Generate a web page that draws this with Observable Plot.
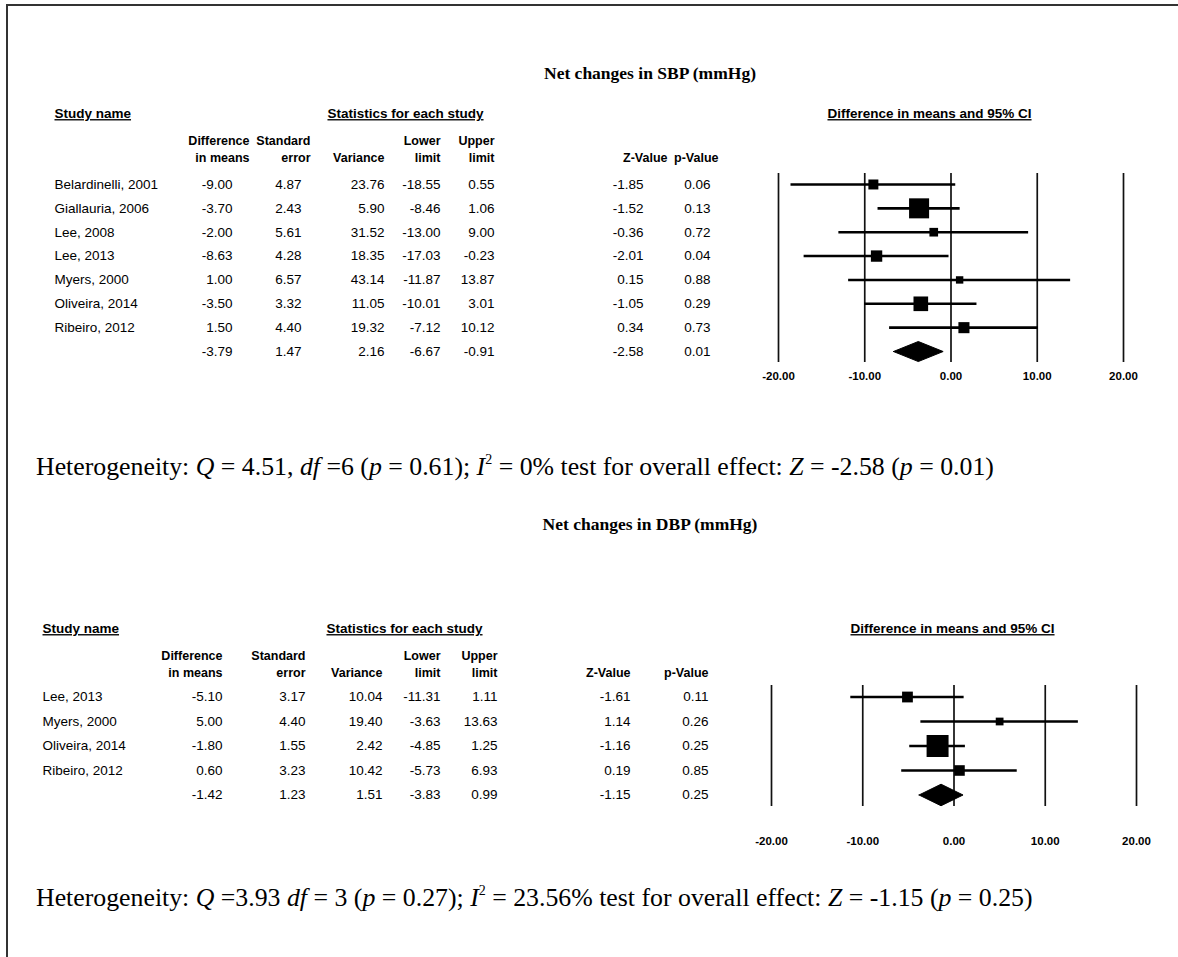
<!DOCTYPE html>
<html><head><meta charset="utf-8">
<script src="https://cdn.jsdelivr.net/npm/d3@7"></script>
<script src="https://cdn.jsdelivr.net/npm/@observablehq/plot@0.6"></script>
<style>
body{margin:0;background:#fff;}
#page{position:relative;width:1178px;height:957px;overflow:hidden;background:#fff;font-family:"Liberation Sans",Arial,sans-serif;}
.frameTop{position:absolute;left:6px;top:4px;right:0;height:0;border-top:2px solid #333;}
.frameLeft{position:absolute;left:6px;top:4px;bottom:0;width:0;border-left:2px solid #333;}
.title{position:absolute;left:0;width:1300px;text-align:center;font-family:"Liberation Serif","Times New Roman",serif;font-weight:bold;font-size:17.5px;line-height:1;}
.het{position:absolute;left:36px;font-family:"Liberation Serif","Times New Roman",serif;font-size:25.8px;white-space:nowrap;line-height:1;}
.het sup{font-size:14px;vertical-align:11px;line-height:0;}
.plot{position:absolute;left:0;}
.plot svg{overflow:visible;}
</style></head><body>
<div id="page">
  <div class="frameTop"></div><div class="frameLeft"></div>
  <div class="title" style="top:65px">Net changes in SBP (mmHg)</div>
  <div id="p1" class="plot" style="top:90px"></div>
  <div class="het" style="top:454px">Heterogeneity: <i>Q</i> = 4.51, <i>df</i> =6 (<i>p</i> = 0.61); <i>I</i><sup>2</sup> = 0% test for overall effect: <i>Z</i> = -2.58 (<i>p</i> = 0.01)</div>
  <div class="title" style="top:516px">Net changes in DBP (mmHg)</div>
  <div id="p2" class="plot" style="top:605px"></div>
  <div class="het" style="top:885px">Heterogeneity: <i>Q</i> =3.93 <i>df</i> = 3 (<i>p</i> = 0.27); <i>I</i><sup>2</sup> = 23.56% test for overall effect: <i>Z</i> = -1.15 (<i>p</i> = 0.25)</div>
</div>
<script>
// ---------- data ----------
const ticks = [-20, -10, 0, 10, 20];
const headerLine1 = ["Difference", "Standard", "", "Lower", "Upper", "", ""];
const headerLine2 = ["in means", "error", "Variance", "limit", "limit", "Z-Value", "p-Value"];

// SBP
const sbpStudies = ["Belardinelli, 2001", "Giallauria, 2006", "Lee, 2008", "Lee, 2013", "Myers, 2000", "Oliveira, 2014", "Ribeiro, 2012"];
const sbpDiff  = [-9.00, -3.70, -2.00, -8.63, 1.00, -3.50, 1.50];
const sbpSE    = [4.87, 2.43, 5.61, 4.28, 6.57, 3.32, 4.40];
const sbpVar   = [23.76, 5.90, 31.52, 18.35, 43.14, 11.05, 19.32];
const sbpLower = [-18.55, -8.46, -13.00, -17.03, -11.87, -10.01, -7.12];
const sbpUpper = [0.55, 1.06, 9.00, -0.23, 13.87, 3.01, 10.12];
const sbpZ     = [-1.85, -1.52, -0.36, -2.01, 0.15, -1.05, 0.34];
const sbpP     = [0.06, 0.13, 0.72, 0.04, 0.88, 0.29, 0.73];
const sbpOverall = [-3.79, 1.47, 2.16, -6.67, -0.91, -2.58, 0.01];

// DBP
const dbpStudies = ["Lee, 2013", "Myers, 2000", "Oliveira, 2014", "Ribeiro, 2012"];
const dbpDiff  = [-5.10, 5.00, -1.80, 0.60];
const dbpSE    = [3.17, 4.40, 1.55, 3.23];
const dbpVar   = [10.04, 19.40, 2.42, 10.42];
const dbpLower = [-11.31, -3.63, -4.85, -5.73];
const dbpUpper = [1.11, 13.63, 1.25, 6.93];
const dbpZ     = [-1.61, 1.14, -1.16, 0.19];
const dbpP     = [0.11, 0.26, 0.25, 0.85];
const dbpOverall = [-1.42, 1.23, 1.51, -3.83, 0.99, -1.15, 0.25];

// ---------- drawing ----------
const keys = ["diff", "se", "variance", "lower", "upper", "z", "p"];
const fmt = v => v.toFixed(2);
const FONT = '"Liberation Sans", Arial, Helvetica, sans-serif';

function panel(names, cols, overall, L) {
  const n = names.length;
  const rows = names.map((name, i) => {
    const o = {i, name};
    keys.forEach((k, j) => o[k] = cols[j][i]);
    return o;
  });
  const sum = {i: n, name: ""};
  keys.forEach((k, j) => sum[k] = overall[j]);
  const all = [...rows, sum];
  const dia = [
    {x: sum.lower, y: n}, {x: sum.diff, y: n - L.dh}, {x: sum.upper, y: n},
    {x: sum.diff, y: n + L.dh}, {x: sum.lower, y: n}
  ];
  const marks = [
    Plot.ruleX(ticks, {x: d => d, stroke: "#111", strokeWidth: 1.7}),
    Plot.ruleY(rows, {y: "i", x1: "lower", x2: "upper", stroke: "#000", strokeWidth: 2.6}),
    Plot.dot(rows, {x: "diff", y: "i", r: d => 1 / d.variance, symbol: "square", fill: "#000"}),
    Plot.line(dia, {x: "x", y: "y", fill: "#000", stroke: "#000", strokeWidth: 1}),
    Plot.axisX({ticks, tickFormat: fmt, tickSize: 0, tickPadding: L.tp, fontWeight: "bold", fontSize: 11.5, label: null}),
    Plot.text(rows, {y: "i", text: "name", frameAnchor: "left", dx: L.nameX, textAnchor: "start"}),
    Plot.text(["Study name"], {frameAnchor: "top-left", dx: L.nameX, dy: L.h0, textAnchor: "start", fontWeight: "bold"}),
    Plot.text(["Statistics for each study"], {frameAnchor: "top-left", dx: L.statX, dy: L.h0, textAnchor: "middle", fontWeight: "bold"}),
    Plot.text(["Difference in means and 95% CI"], {frameAnchor: "top-left", dx: L.ciX, dy: L.h0, textAnchor: "middle", fontWeight: "bold"})
  ];
  keys.forEach((k, j) => {
    marks.push(Plot.text(all, {y: "i", text: d => fmt(d[k]), frameAnchor: "left", dx: L.colX[j], textAnchor: "end"}));
    if (headerLine1[j]) marks.push(Plot.text([headerLine1[j]], {frameAnchor: "top-left", dx: L.hdrX[j], dy: L.h1, textAnchor: "end", fontWeight: "bold", fontSize: 12.5}));
    marks.push(Plot.text([headerLine2[j]], {frameAnchor: "top-left", dx: L.hdrX[j], dy: L.h2, textAnchor: "end", fontWeight: "bold", fontSize: 12.5}));
  });
  const svg = Plot.plot({
    width: 1178, height: L.h,
    marginTop: L.mt, marginBottom: L.mb, marginLeft: 0, marginRight: 0,
    x: {domain: [-20, 20], range: L.xr},
    y: {domain: [-L.pad, n + L.pad], reverse: true, axis: null},
    r: {type: "sqrt", range: [0, L.rmax]},
    style: {fontFamily: FONT, fontSize: "13.5px", color: "#000", background: "transparent", overflow: "visible"},
    marks
  });
  const ul = new Set(["Study name", "Statistics for each study", "Difference in means and 95% CI"]);
  d3.select(svg).selectAll("text").filter(function() { return ul.has(this.textContent); })
    .style("text-decoration", "underline").style("text-decoration-thickness", "2px").style("text-underline-offset", "3px");
  return svg;
}

document.getElementById("p1").append(panel(sbpStudies,
  [sbpDiff, sbpSE, sbpVar, sbpLower, sbpUpper, sbpZ, sbpP], sbpOverall,
  {h: 305, mt: 83, mb: 33, xr: [778, 1123], pad: 0.46, dh: 0.42, rmax: 11.3, tp: 9,
   nameX: 54, statX: 405, ciX: 929, h0: -65, h1: -37, h2: -20,
   colX: [232, 301, 384, 440, 494, 643, 710],
   hdrX: [249, 310, 384, 440, 494, 667, 718]}));

document.getElementById("p2").append(panel(dbpStudies,
  [dbpDiff, dbpSE, dbpVar, dbpLower, dbpUpper, dbpZ, dbpP], dbpOverall,
  {h: 255, mt: 80, mb: 54, xr: [771, 1136], pad: 0.47, dh: 0.44, rmax: 12.4, tp: 30,
   nameX: 42, statX: 404, ciX: 952, h0: -62, h1: -34, h2: -17,
   colX: [222, 305, 382, 440, 497, 630, 708],
   hdrX: [222, 305, 382, 440, 497, 630, 708]}));
</script>
</body></html>
